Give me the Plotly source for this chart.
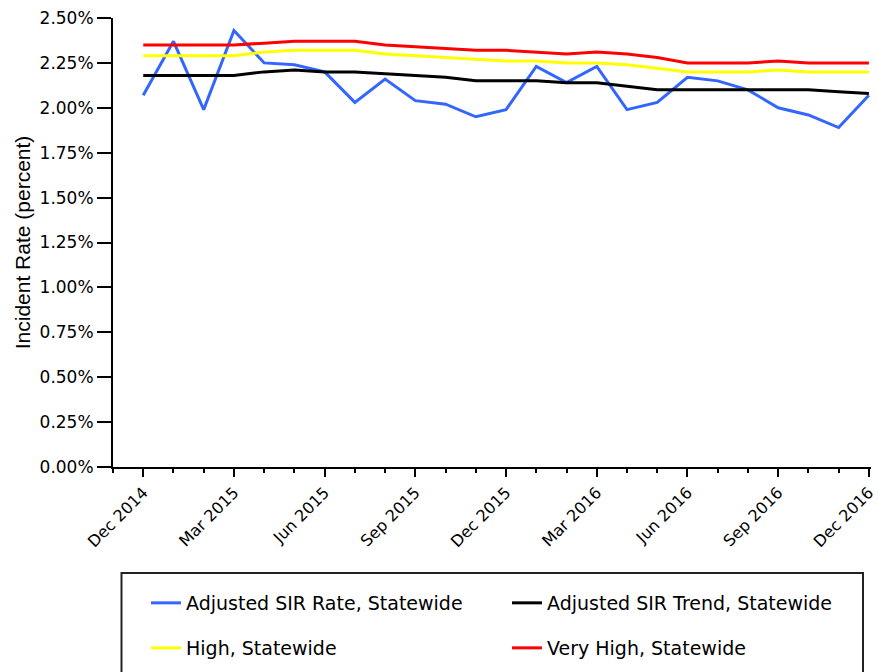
import plotly.graph_objects as go

months = ["Dec 2014", "Jan 2015", "Feb 2015", "Mar 2015", "Apr 2015", "May 2015",
          "Jun 2015", "Jul 2015", "Aug 2015", "Sep 2015", "Oct 2015", "Nov 2015",
          "Dec 2015", "Jan 2016", "Feb 2016", "Mar 2016", "Apr 2016", "May 2016",
          "Jun 2016", "Jul 2016", "Aug 2016", "Sep 2016", "Oct 2016", "Nov 2016",
          "Dec 2016"]

sir_rate = [2.07, 2.37, 1.99, 2.43, 2.25, 2.24, 2.20, 2.03, 2.16, 2.04, 2.02, 1.95,
            1.99, 2.23, 2.14, 2.23, 1.99, 2.03, 2.17, 2.15, 2.10, 2.00, 1.96, 1.89,
            2.07]
sir_trend = [2.18, 2.18, 2.18, 2.18, 2.20, 2.21, 2.20, 2.20, 2.19, 2.18, 2.17, 2.15,
             2.15, 2.15, 2.14, 2.14, 2.12, 2.10, 2.10, 2.10, 2.10, 2.10, 2.10, 2.09,
             2.08]
high = [2.29, 2.29, 2.29, 2.29, 2.31, 2.32, 2.32, 2.32, 2.30, 2.29, 2.28, 2.27,
        2.26, 2.26, 2.25, 2.25, 2.24, 2.22, 2.20, 2.20, 2.20, 2.21, 2.20, 2.20,
        2.20]
very_high = [2.35, 2.35, 2.35, 2.35, 2.36, 2.37, 2.37, 2.37, 2.35, 2.34, 2.33, 2.32,
             2.32, 2.31, 2.30, 2.31, 2.30, 2.28, 2.25, 2.25, 2.25, 2.26, 2.25, 2.25,
             2.25]

series_names = ["Adjusted SIR Rate, Statewide", "Adjusted SIR Trend, Statewide",
                "High, Statewide", "Very High, Statewide"]
y_ticks = [0, 0.25, 0.5, 0.75, 1.0, 1.25, 1.5, 1.75, 2.0, 2.25, 2.5]
y_tick_labels = ["0.00%", "0.25%", "0.50%", "0.75%", "1.00%", "1.25%", "1.50%",
                 "1.75%", "2.00%", "2.25%", "2.50%"]

x = list(range(len(months)))

W, H = 878, 672
ML, MR, MT, MB = 113, 7, 18, 205
PW, PH = W - ML - MR, H - MT - MB


def px_x(p):
    return (p - ML) / PW


def px_y(p):
    return (H - MB - p) / PH


ytick_font = dict(family="DejaVu Sans", size=17, color="#000000")
xtick_font = dict(family="DejaVu Sans", size=16, color="#000000")
leg_font = dict(family="DejaVu Sans", size=19, color="#000000")

fig = go.Figure()
fig.add_trace(go.Scatter(x=x, y=sir_rate, mode="lines", name=series_names[0],
                         line=dict(color="#3366FF", width=3), legend="legend"))
fig.add_trace(go.Scatter(x=x, y=sir_trend, mode="lines", name=series_names[1],
                         line=dict(color="#000000", width=3), legend="legend"))
fig.add_trace(go.Scatter(x=x, y=high, mode="lines", name=series_names[2],
                         line=dict(color="#FFFF00", width=3), legend="legend2"))
fig.add_trace(go.Scatter(x=x, y=very_high, mode="lines", name=series_names[3],
                         line=dict(color="#FF0000", width=3), legend="legend2"))

fig.update_layout(
    width=W, height=H,
    margin=dict(l=ML, r=MR, t=MT, b=MB, autoexpand=False),
    paper_bgcolor="white", plot_bgcolor="white",
    showlegend=True,
    legend=dict(orientation="h", x=px_x(146), xanchor="left", y=px_y(603),
                yanchor="middle", font=leg_font, entrywidth=316,
                entrywidthmode="pixels", bgcolor="rgba(0,0,0,0)",
                traceorder="normal"),
    legend2=dict(orientation="h", x=px_x(146), xanchor="left", y=px_y(648),
                 yanchor="middle", font=leg_font, entrywidth=316,
                 entrywidthmode="pixels", bgcolor="rgba(0,0,0,0)",
                 traceorder="normal"),
    shapes=[dict(type="rect", xref="paper", yref="paper",
                 x0=px_x(121.5), x1=px_x(863), y0=px_y(573), y1=px_y(690),
                 line=dict(color="#222222", width=2), fillcolor="rgba(0,0,0,0)")],
)

fig.update_xaxes(
    range=[-1, 24.07], showgrid=False, zeroline=False,
    showline=True, linecolor="black", linewidth=2,
    tickmode="array", tickvals=x[::3], ticktext=months[::3],
    ticks="outside", ticklen=8, tickwidth=2, tickcolor="black",
    tickangle=-45, tickfont=xtick_font, ticklabeloverflow="allow",
    minor=dict(dtick=1, tick0=0, ticks="outside", ticklen=4, tickwidth=2,
               tickcolor="black", showgrid=False),
)
fig.update_yaxes(
    range=[0, 2.5], showgrid=False, zeroline=False,
    showline=True, linecolor="black", linewidth=2,
    tickmode="array", tickvals=y_ticks, ticktext=y_tick_labels,
    ticks="outside", ticklen=14, tickwidth=2, tickcolor="black",
    tickfont=ytick_font,
    title=dict(text="Incident Rate (percent)",
               font=dict(family="Liberation Sans", size=21, color="#000000"),
               standoff=3),
)

fig.write_html("out.html",
               config={"displayModeBar": False},
               post_script="document.body.style.margin='0';"
                           "document.body.style.overflow='hidden';")
